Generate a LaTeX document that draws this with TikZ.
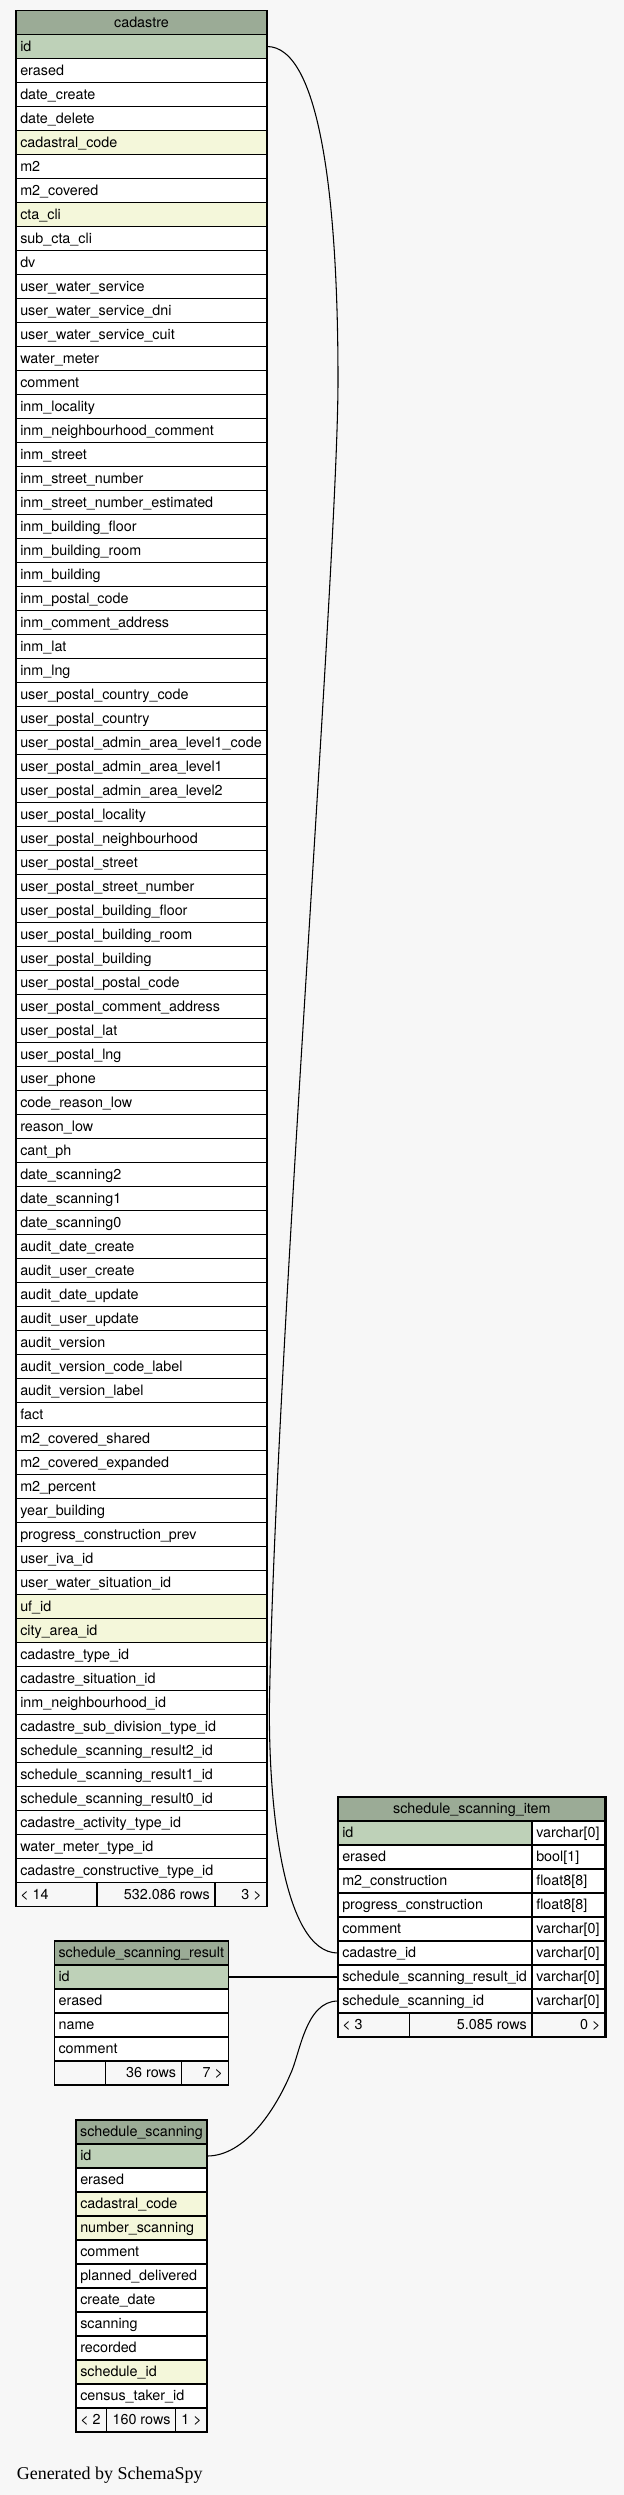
\documentclass[tikz,border=0pt]{standalone}
\usepackage{fontspec}
\setmainfont{TeX Gyre Heros}
\newfontfamily\footserif{Liberation Serif}
\definecolor{bg}{HTML}{F7F7F7}
\definecolor{hd}{HTML}{9BAB96}
\definecolor{pk}{HTML}{BED1B8}
\definecolor{ix}{HTML}{F4F7DA}
\definecolor{wh}{HTML}{FFFFFF}
\newcommand\tabfont{\fontsize{10.75pt}{12pt}\selectfont}
\tikzset{
  cellbox/.style={draw=black, line width=1.1pt, inner sep=0pt, outer sep=0pt,
    anchor=north west, minimum height=18pt},
  txtl/.style={inner sep=0pt, font=\tabfont, anchor=base west},
  txtr/.style={inner sep=0pt, font=\tabfont, anchor=base east},
  txtc/.style={inner sep=0pt, font=\tabfont, anchor=base},
  conn/.style={draw=black, line width=0.8pt},
  focal/.style={draw=black, line width=2.2pt}
}
% name, x, ytop, width(px), fill, text
\newcommand\tabrow[6]{%
  \node[cellbox, fill=#5, minimum width={#4*0.75pt}] (#1) at (#2,#3) {};
  \node[txtl] at ([xshift=3pt, yshift=-12.4pt]#1.north west) {#6};
}
\newcommand\tabrowr[6]{%
  \node[cellbox, fill=#5, minimum width={#4*0.75pt}] (#1) at (#2,#3) {};
  \node[txtr] at ([xshift=-3.75pt, yshift=-12.4pt]#1.north east) {#6};
}
\newcommand\tabhead[5]{%
  \node[cellbox, fill=hd, minimum width={#4*0.75pt}] (#1) at (#2,#3) {};
  \node[txtc] at ([yshift=-12.4pt]#1.north) {#5};
}
\begin{document}
\begin{tikzpicture}[x=0.75pt, y=-0.75pt]
\path[fill=bg] (0,0) rectangle (624,2495);
\useasboundingbox (0,0) rectangle (624,2495);

% ---------------- cadastre ----------------
\tabhead{cadh}{16}{10.5}{251}{cadastre}
\foreach \f/\n [count=\i] in {pk/id, wh/erased, wh/date\_create, wh/date\_delete, ix/cadastral\_code, wh/m2, wh/m2\_covered, ix/cta\_cli, wh/sub\_cta\_cli, wh/dv, wh/user\_water\_service, wh/user\_water\_service\_dni, wh/user\_water\_service\_cuit, wh/water\_meter, wh/comment, wh/inm\_locality, wh/inm\_neighbourhood\_comment, wh/inm\_street, wh/inm\_street\_number, wh/inm\_street\_number\_estimated, wh/inm\_building\_floor, wh/inm\_building\_room, wh/inm\_building, wh/inm\_postal\_code, wh/inm\_comment\_address, wh/inm\_lat, wh/inm\_lng, wh/user\_postal\_country\_code, wh/user\_postal\_country, wh/user\_postal\_admin\_area\_level1\_code, wh/user\_postal\_admin\_area\_level1, wh/user\_postal\_admin\_area\_level2, wh/user\_postal\_locality, wh/user\_postal\_neighbourhood, wh/user\_postal\_street, wh/user\_postal\_street\_number, wh/user\_postal\_building\_floor, wh/user\_postal\_building\_room, wh/user\_postal\_building, wh/user\_postal\_postal\_code, wh/user\_postal\_comment\_address, wh/user\_postal\_lat, wh/user\_postal\_lng, wh/user\_phone, wh/code\_reason\_low, wh/reason\_low, wh/cant\_ph, wh/date\_scanning2, wh/date\_scanning1, wh/date\_scanning0, wh/audit\_date\_create, wh/audit\_user\_create, wh/audit\_date\_update, wh/audit\_user\_update, wh/audit\_version, wh/audit\_version\_code\_label, wh/audit\_version\_label, wh/fact, wh/m2\_covered\_shared, wh/m2\_covered\_expanded, wh/m2\_percent, wh/year\_building, wh/progress\_construction\_prev, wh/user\_iva\_id, wh/user\_water\_situation\_id, ix/uf\_id, ix/city\_area\_id, wh/cadastre\_type\_id, wh/cadastre\_situation\_id, wh/inm\_neighbourhood\_id, wh/cadastre\_sub\_division\_type\_id, wh/schedule\_scanning\_result2\_id, wh/schedule\_scanning\_result1\_id, wh/schedule\_scanning\_result0\_id, wh/cadastre\_activity\_type\_id, wh/water\_meter\_type\_id, wh/cadastre\_constructive\_type\_id}{
  \pgfmathsetmacro\yy{10.5+24*\i}
  \tabrow{cad\i}{16}{\yy}{251}{\f}{\n}
}
\tabrow{cadf1}{16}{1882.5}{81}{bg}{< 14}
\tabrowr{cadf2}{97}{1882.5}{118}{bg}{532.086 rows}
\tabrowr{cadf3}{215}{1882.5}{52}{bg}{3 >}

% ---------------- schedule_scanning_result ----------------
\tabhead{ssrh}{54.3}{1941}{174}{schedule\_scanning\_result}
\foreach \f/\n [count=\i] in {pk/id, wh/erased, wh/name, wh/comment}{
  \pgfmathsetmacro\yy{1941+24*\i}
  \tabrow{ssr\i}{54.3}{\yy}{174}{\f}{\n}
}
\tabrow{ssrf1}{54.3}{2061}{51}{bg}{}
\tabrowr{ssrf2}{105.3}{2061}{76}{bg}{36 rows}
\tabrowr{ssrf3}{181.3}{2061}{47}{bg}{7 >}

% ---------------- schedule_scanning ----------------
\tabhead{ssh}{76}{2120}{131}{schedule\_scanning}
\foreach \f/\n [count=\i] in {pk/id, wh/erased, ix/cadastral\_code, ix/number\_scanning, wh/comment, wh/planned\_delivered, wh/create\_date, wh/scanning, wh/recorded, ix/schedule\_id, wh/census\_taker\_id}{
  \pgfmathsetmacro\yy{2120+24*\i}
  \tabrow{ss\i}{76}{\yy}{131}{\f}{\n}
}
\tabrow{ssf1}{76}{2408}{30.7}{bg}{< 2}
\tabrowr{ssf2}{106.7}{2408}{69}{bg}{160 rows}
\tabrowr{ssf3}{175.7}{2408}{31.3}{bg}{1 >}

% ---------------- schedule_scanning_item ----------------
\tabhead{itemh}{338}{1797}{267.7}{schedule\_scanning\_item}
\foreach \f/\n/\t [count=\i] in {pk/id/varchar[0], wh/erased/bool[1], wh/m2\_construction/float8[8], wh/progress\_construction/float8[8], wh/comment/varchar[0], wh/cadastre\_id/varchar[0], wh/schedule\_scanning\_result\_id/varchar[0], wh/schedule\_scanning\_id/varchar[0]}{
  \pgfmathsetmacro\yy{1797+24*\i}
  \tabrow{item\i}{338}{\yy}{194}{\f}{\n}
  \tabrow{itemt\i}{532}{\yy}{73.7}{wh}{\t}
}
\tabrow{itemf1}{338}{2013}{71.3}{bg}{< 3}
\tabrowr{itemf2}{409.3}{2013}{122.7}{bg}{5.085 rows}
\tabrowr{itemf3}{532}{2013}{73.7}{bg}{0 >}
\draw[focal] (itemh.north west) rectangle (itemf3.south east);

% ---------------- connectors ----------------
\draw[conn] (cad1.east) .. controls (320,46.5) and (338,200) .. (338,380)
  .. controls (338,560) and (276,1350) .. (269.5,1700)
  .. controls (268,1800) and (282,1953) .. (item6.west);
\draw[conn] (ssr1.east) -- (item7.west);
\draw[conn] (ss1.east) .. controls (245,2156) and (275,2110) .. (290,2075)
  .. controls (300,2055) and (305,2001) .. (item8.west);

% ---------------- footer ----------------
\node[inner sep=0pt, anchor=base west, font=\footserif\fontsize{13.5pt}{15pt}\selectfont] (gen) at (16.5,2479) {Generated by SchemaSpy};
\end{tikzpicture}
\end{document}
